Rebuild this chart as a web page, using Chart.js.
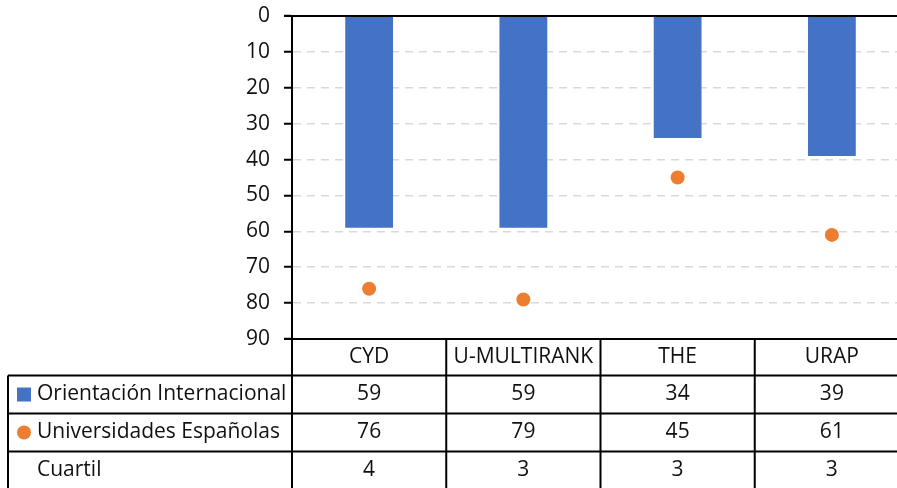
<!DOCTYPE html>
<html lang="es">
<head>
    <meta charset="UTF-8">
    <title>Orientación Internacional vs Universidades Españolas</title>
    <script src="https://cdn.jsdelivr.net/npm/chart.js"></script>
    <style>
        body {
            margin: 0;
            background: #fff;
            overflow: hidden;
        }
        #chartCanvas {
            display: block;
        }
    </style>
</head>
<body>
    <canvas id="chartCanvas" width="916" height="488"></canvas>
    <script>
        // datos del gráfico
        const categorias = ['CYD', 'U-MULTIRANK', 'THE', 'URAP'];
        const orientacionInternacional = [59, 59, 34, 39];
        const universidadesEspanolas = [76, 79, 45, 61];
        const cuartil = [4, 3, 3, 3];
        const ticksY = [0, 10, 20, 30, 40, 50, 60, 70, 80, 90];

        const AZUL = '#4472C4';
        const NARANJA = '#ED7D31';
        const FUENTE = "'Open Sans', 'Noto Sans', sans-serif";
        const TAM = 21;

        // tabla de datos debajo del eje (como en Excel)
        const tablaDatos = {
            id: 'tablaDatos',
            afterDraw(chart) {
                const ctx = chart.ctx;
                const x = chart.scales.x;
                const area = chart.chartArea;
                const anchoCol = x.width / categorias.length;
                const filaAlto = 38;
                const top = area.bottom;
                const filas = [top, top + 36.5, top + 36.5 + filaAlto, top + 36.5 + 2 * filaAlto, top + 36.5 + 3 * filaAlto];
                const izqLeyenda = 8;

                ctx.save();
                ctx.strokeStyle = '#000';
                ctx.lineWidth = 2;
                ctx.beginPath();
                // línea superior (eje en 0)
                ctx.moveTo(area.left - 8, area.top);
                ctx.lineTo(area.right, area.top);
                // cabecera
                ctx.moveTo(area.left - 8, filas[0]);
                ctx.lineTo(area.right, filas[0]);
                for (let r = 1; r < filas.length; r++) {
                    ctx.moveTo(izqLeyenda, filas[r]);
                    ctx.lineTo(area.right, filas[r]);
                }
                // verticales
                ctx.moveTo(area.left, area.top);
                ctx.lineTo(area.left, filas[4]);
                ctx.moveTo(izqLeyenda, filas[1]);
                ctx.lineTo(izqLeyenda, filas[4]);
                for (let i = 1; i <= categorias.length; i++) {
                    const xx = area.left + i * anchoCol;
                    ctx.moveTo(xx, filas[0]);
                    ctx.lineTo(xx, filas[4]);
                }
                ctx.stroke();

                ctx.fillStyle = '#111';
                ctx.font = TAM + 'px ' + FUENTE;
                ctx.textAlign = 'center';
                ctx.textBaseline = 'middle';
                const valores = [null, orientacionInternacional, universidadesEspanolas, cuartil];
                categorias.forEach((c, i) => {
                    const cx = x.getPixelForValue(i);
                    ctx.fillText(c, cx, (filas[0] + filas[1]) / 2);
                    for (let r = 1; r < 4; r++) {
                        ctx.fillText(String(valores[r][i]), cx, (filas[r] + filas[r + 1]) / 2);
                    }
                });

                // etiquetas de la leyenda
                const nombres = ['Orientación Internacional', 'Universidades Españolas', 'Cuartil'];
                ctx.textAlign = 'left';
                nombres.forEach((n, k) => {
                    const cy = (filas[k + 1] + filas[k + 2]) / 2;
                    ctx.fillStyle = '#111';
                    ctx.fillText(n, 37, cy);
                    if (k === 0) {
                        ctx.fillStyle = AZUL;
                        ctx.fillRect(17, cy - 7, 14, 14);
                    } else if (k === 1) {
                        ctx.fillStyle = NARANJA;
                        ctx.beginPath();
                        ctx.arc(24, cy, 7, 0, Math.PI * 2);
                        ctx.fill();
                    }
                });
                ctx.restore();
            }
        };

        const ctx = document.getElementById('chartCanvas').getContext('2d');
        const chart = new Chart(ctx, {
            type: 'bar',
            data: {
                labels: categorias,
                datasets: [
                    {
                        type: 'line',
                        label: 'Universidades Españolas',
                        data: universidadesEspanolas,
                        showLine: false,
                        pointRadius: 7,
                        pointBackgroundColor: NARANJA,
                        pointBorderWidth: 0,
                        order: 0
                    },
                    {
                        label: 'Orientación Internacional',
                        data: orientacionInternacional,
                        backgroundColor: AZUL,
                        barPercentage: 0.31,
                        categoryPercentage: 1,
                        order: 1
                    }
                ]
            },
            options: {
                responsive: false,
                animation: false,
                layout: {
                    padding: { top: 16, bottom: 149, right: 2, left: 0 }
                },
                plugins: {
                    legend: { display: false },
                    tooltip: { enabled: false }
                },
                scales: {
                    x: {
                        display: false,
                        offset: true
                    },
                    y: {
                        reverse: true,
                        min: 0,
                        max: 90,
                        afterFit(scale) {
                            scale.width = 292;
                            scale.paddingTop = 0;
                            scale.paddingBottom = 0;
                        },
                        afterBuildTicks(scale) {
                            scale.ticks = ticksY.map(v => ({ value: v }));
                        },
                        ticks: {
                            color: '#111',
                            font: { size: TAM, family: FUENTE },
                            padding: 14
                        },
                        grid: {
                            color: '#d9d9d9',
                            lineWidth: 1.5,
                            tickLength: 8,
                            tickColor: '#000',
                            tickWidth: 2
                        },
                        border: {
                            color: '#000',
                            width: 2,
                            dash: [8, 6]
                        }
                    }
                }
            },
            plugins: [tablaDatos]
        });
    </script>
</body>
</html>
